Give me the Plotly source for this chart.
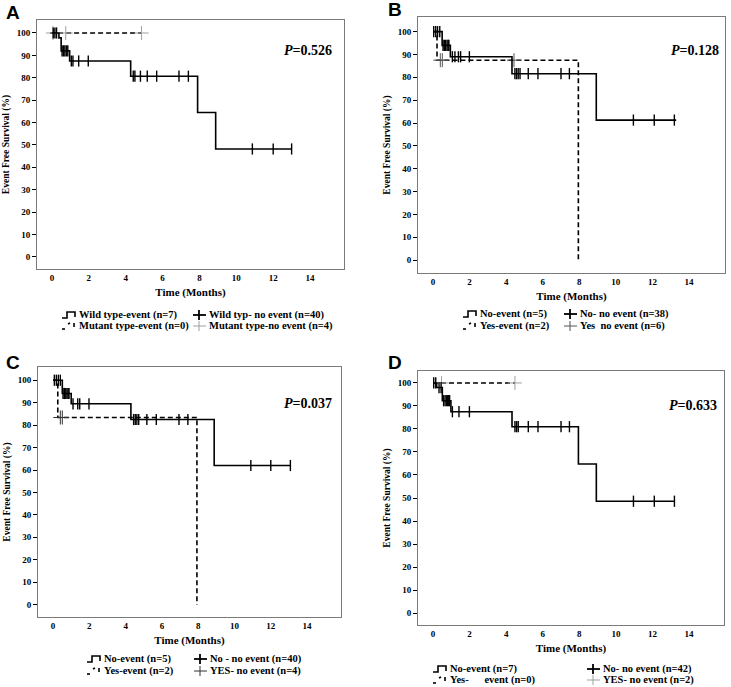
import plotly.graph_objects as go

W, H = 731, 687

# ---------------- data ----------------
# Panel A
A_solid_t = [0, 0.38, 0.50, 0.96, 4.27, 7.90, 8.88, 13.0]
A_solid_s = [100, 97.8, 92.0, 87.5, 80.7, 64.5, 48.2, 48.2]
A_solid_cens = [0.07, 0.16, 0.25, 0.55, 0.62, 0.70, 0.78, 0.86, 1.05, 1.14, 1.45, 1.97,
                4.41, 4.50, 4.80, 5.17, 5.68, 6.89, 7.40, 10.87, 12.0, 13.0]
A_dash_t = [-0.1, 4.86]
A_dash_s = [100, 100]
A_dash_cens = [0.05, 0.75, 4.86]

# Panel B
B_solid_t = [0, 0.50, 0.95, 4.32, 8.93, 13.3]
B_solid_s = [100, 94.0, 89.0, 81.6, 61.3, 61.3]
B_solid_cens = [0.04, 0.15, 0.25, 0.37, 0.55, 0.62, 0.69, 0.77, 0.83, 0.87,
                1.06, 1.20, 1.39, 1.51, 1.99, 4.48, 4.57, 4.66, 4.76, 5.21, 5.74,
                7.00, 7.46, 10.96, 12.1, 13.2]
B_dash_t = [0, 0.22, 7.95]
B_dash_s = [100, 87.5, 0]
B_dash_cens = [0.40, 0.51, 4.43]

# Panel C
C_solid_t = [0, 0.51, 1.00, 4.29, 8.88, 13.1]
C_solid_s = [100, 94.1, 89.5, 82.5, 62.0, 62.0]
C_solid_cens = [0.07, 0.18, 0.29, 0.40, 0.55, 0.62, 0.70, 0.77, 0.83, 0.88,
                1.10, 1.36, 1.47, 1.98, 4.44, 4.53, 4.62, 4.72, 5.17, 5.69,
                6.94, 7.43, 10.9, 12.0, 13.08]
C_dash_t = [0, 0.26, 7.93]
C_dash_s = [100, 83.4, 0]
C_dash_cens = [0.40, 0.51]

# Panel D
D_solid_t = [0, 0.20, 0.51, 0.98, 4.32, 7.95, 8.93, 13.2]
D_solid_s = [100, 98.0, 92.3, 87.5, 81.0, 64.8, 48.6, 48.6]
D_solid_cens = [0.04, 0.15, 0.33, 0.44, 0.58, 0.66, 0.74, 0.80, 0.86, 0.91,
                1.06, 1.42, 1.99, 4.48, 4.57, 4.66, 5.21, 5.74, 7.00, 7.46,
                10.96, 12.1, 13.2]
D_dash_t = [0, 4.48]
D_dash_s = [100, 100]
D_dash_cens = [0.47, 4.48]

p_values = ["0.526", "0.128", "0.037", "0.633"]
panel_letters = ["A", "B", "C", "D"]
legend_texts = [
    ["Wild type-event (n=7)", "Wild typ- no event (n=40)",
     "Mutant type-event (n=0)", "Mutant type-no event (n=4)"],
    ["No-event (n=5)", "No- no event (n=38)",
     "Yes-event (n=2)", "Yes  no event (n=6)"],
    ["No-event (n=5)", "No - no event (n=40)",
     "Yes-event (n=2)", "YES- no event (n=4)"],
    ["No-event (n=7)", "No- no event (n=42)",
     "Yes-      event (n=0)", "YES- no event (n=2)"],
]
y_ticks = [0, 10, 20, 30, 40, 50, 60, 70, 80, 90, 100]
x_ticks = [0, 2, 4, 6, 8, 10, 12, 14]

# ---------------- layout geometry (pixels) ----------------
panels = [
    dict(frame=(37, 20, 344, 269), xr=(-0.81, 15.84), yr=(-5.4, 105.8),
         letter=(4, 12), p=(308, 50), leg_y=(315, 326), leg_x=(62, 193),
         cens_color="#a0a0a0"),
    dict(frame=(418, 17, 725, 273), xr=(-0.82, 15.97), yr=(-5.6, 106.4),
         letter=(386, 10), p=(695, 50), leg_y=(314, 326), leg_x=(463, 564),
         cens_color="#555555"),
    dict(frame=(38, 367, 341, 617), xr=(-0.83, 15.87), yr=(-5.5, 105.9),
         letter=(4, 362), p=(308, 403), leg_y=(659, 671), leg_x=(87, 194),
         cens_color="#333333"),
    dict(frame=(418, 371, 724, 625), xr=(-0.82, 15.91), yr=(-5.2, 105.2),
         letter=(386, 362), p=(693, 405), leg_y=(669, 680), leg_x=(433, 587),
         cens_color="#a0a0a0"),
]

data = [
    (A_solid_t, A_solid_s, A_solid_cens, A_dash_t, A_dash_s, A_dash_cens),
    (B_solid_t, B_solid_s, B_solid_cens, B_dash_t, B_dash_s, B_dash_cens),
    (C_solid_t, C_solid_s, C_solid_cens, C_dash_t, C_dash_s, C_dash_cens),
    (D_solid_t, D_solid_s, D_solid_cens, D_dash_t, D_dash_s, D_dash_cens),
]

SERIF = "Liberation Serif"


def px(x):
    return x / W


def py(y):
    return 1 - y / H


def level(ts, ss, t):
    v = ss[0]
    for ti, si in zip(ts, ss):
        if ti <= t:
            v = si
    return v


fig = go.Figure()
shapes = []
annotations = []

for i, (pan, d) in enumerate(zip(panels, data)):
    st, ss, sc, dt, ds, dc = d
    xa = "x" if i == 0 else f"x{i+1}"
    ya = "y" if i == 0 else f"y{i+1}"
    # dashed curve
    fig.add_trace(go.Scatter(x=dt, y=ds, mode="lines", line_shape="hv",
                             line=dict(color="black", width=1.6, dash="5px,3px"),
                             xaxis=xa, yaxis=ya, showlegend=False, hoverinfo="skip"))
    # dashed censors
    fig.add_trace(go.Scatter(x=dc, y=[level(dt, ds, t) for t in dc], mode="markers",
                             marker=dict(symbol="cross-thin", size=10,
                                         line=dict(color=pan["cens_color"], width=1.0)),
                             xaxis=xa, yaxis=ya, showlegend=False, hoverinfo="skip"))
    # solid curve
    fig.add_trace(go.Scatter(x=st, y=ss, mode="lines", line_shape="hv",
                             line=dict(color="black", width=1.6),
                             xaxis=xa, yaxis=ya, showlegend=False, hoverinfo="skip"))
    # solid censors
    fig.add_trace(go.Scatter(x=sc, y=[level(st, ss, t) for t in sc], mode="markers",
                             marker=dict(symbol="line-ns", size=8,
                                         line=dict(color="black", width=1.4)),
                             xaxis=xa, yaxis=ya, showlegend=False, hoverinfo="skip"))

    x0, y0, x1, y1 = pan["frame"]
    xkey = "xaxis" if i == 0 else f"xaxis{i+1}"
    ykey = "yaxis" if i == 0 else f"yaxis{i+1}"
    fig.layout[xkey] = dict(
        domain=[px(x0), px(x1)], range=list(pan["xr"]), anchor=ya,
        showline=True, mirror=True, linecolor="#7a7a7a", linewidth=1,
        showgrid=False, zeroline=False, ticks="", tickvals=x_ticks,
        tickfont=dict(family=SERIF, size=9, color="black", weight="bold"),
        title=dict(text="Time (Months)", standoff=6,
                   font=dict(family=SERIF, size=11, color="black", weight="bold")),
        fixedrange=True)
    fig.layout[ykey] = dict(
        domain=[py(y1), py(y0)], range=list(pan["yr"]), anchor=xa,
        showline=True, mirror=True, linecolor="#7a7a7a", linewidth=1,
        showgrid=False, zeroline=False, ticks="outside", ticklen=4,
        tickcolor="black", tickwidth=1, tickvals=y_ticks,
        tickfont=dict(family=SERIF, size=9, color="black", weight="bold"),
        title=dict(text="Event Free Survival (%)", standoff=5,
                   font=dict(family=SERIF, size=9.5, color="black", weight="bold")),
        fixedrange=True)

    # panel letter
    lx, ly = pan["letter"]
    annotations.append(dict(x=px(lx), y=py(ly), xref="paper", yref="paper",
                            text="<b>" + panel_letters[i] + "</b>", showarrow=False,
                            xanchor="left", yanchor="middle",
                            font=dict(family="Liberation Sans", size=19, color="black")))
    # P value
    pxx, pyy = pan["p"]
    annotations.append(dict(x=px(pxx), y=py(pyy), xref="paper", yref="paper",
                            text="<b><i>P</i>=" + p_values[i] + "</b>", showarrow=False,
                            xanchor="center", yanchor="middle",
                            font=dict(family=SERIF, size=14, color="black")))

    # legend
    r1, r2 = pan["leg_y"]
    c1, c2 = pan["leg_x"]
    texts = legend_texts[i]
    # solid step icon
    b, t = r1 + 3, r1 - 3
    path = (f"M {px(c1)},{py(b)} L {px(c1+5)},{py(b)} L {px(c1+5)},{py(t)} "
            f"L {px(c1+13)},{py(t)} L {px(c1+13)},{py(b-1)}")
    shapes.append(dict(type="path", path=path, xref="paper", yref="paper",
                       line=dict(color="black", width=1.6)))
    # dashed step icon (broken pieces)
    b, t = r2 + 3, r2 - 3
    for seg in ((c1, b, c1 + 3, b), (c1 + 6, t + 1, c1 + 8, t), (c1 + 12, t, c1 + 12, t + 4)):
        shapes.append(dict(type="line", xref="paper", yref="paper",
                           x0=px(seg[0]), y0=py(seg[1]), x1=px(seg[2]), y1=py(seg[3]),
                           line=dict(color="black", width=1.6)))
    # cross icons
    for row_y, col, wdt in ((r1, "black", 1.8), (r2, pan["cens_color"], 1.0)):
        shapes.append(dict(type="line", xref="paper", yref="paper",
                           x0=px(c2), x1=px(c2 + 13), y0=py(row_y), y1=py(row_y),
                           line=dict(color=col, width=wdt)))
        shapes.append(dict(type="line", xref="paper", yref="paper",
                           x0=px(c2 + 6), x1=px(c2 + 6), y0=py(row_y - 5), y1=py(row_y + 5),
                           line=dict(color=col, width=wdt)))
    for (tx, ty, txt) in ((c1 + 15, r1, texts[0]), (c2 + 14, r1, texts[1]),
                          (c1 + 15, r2, texts[2]), (c2 + 14, r2, texts[3])):
        annotations.append(dict(x=px(tx), y=py(ty), xref="paper", yref="paper",
                                text="<b>" + txt + "</b>", showarrow=False,
                                xanchor="left", yanchor="middle",
                                font=dict(family=SERIF, size=10.5, color="black")))

fig.update_layout(width=W, height=H, margin=dict(l=0, r=0, t=0, b=0),
                  paper_bgcolor="white", plot_bgcolor="white",
                  shapes=shapes, annotations=annotations, showlegend=False)

fig.write_html("out.html", config={"displayModeBar": False},
               post_script="document.body.style.margin='0px';document.body.style.overflow='hidden';")
